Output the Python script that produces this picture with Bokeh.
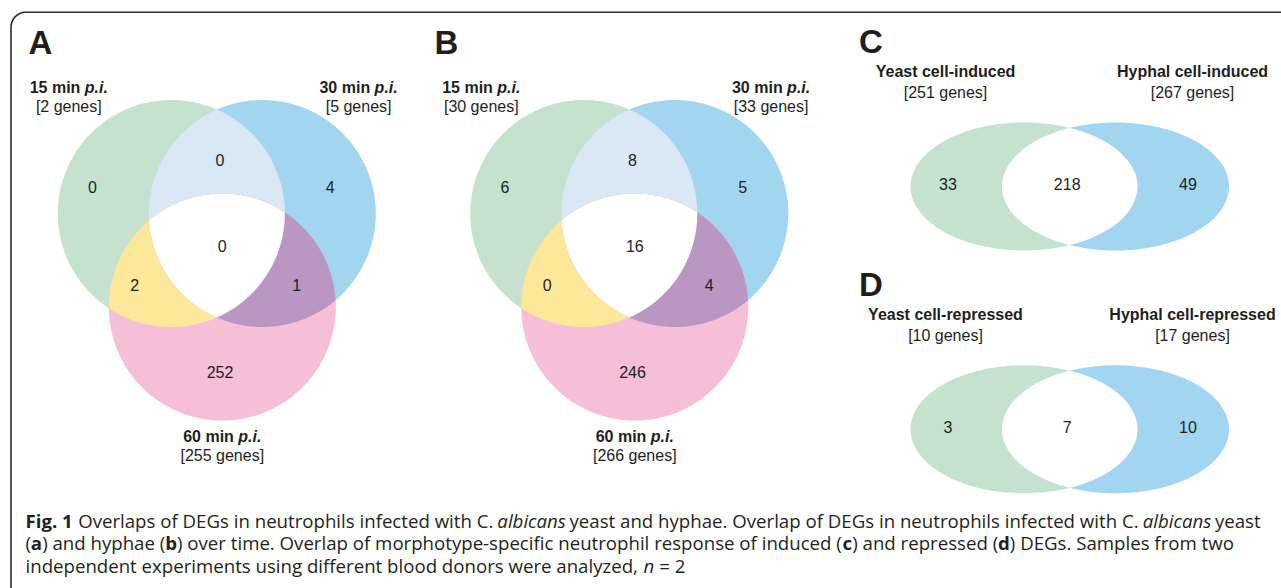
import numpy as np
from bokeh.plotting import figure
from bokeh.models import Range1d
from bokeh.core.properties import value
from bokeh.embed import file_html
from bokeh.resources import INLINE

# ---------------- data ----------------
time_sets = ["15 min", "30 min", "60 min"]
yeast_totals = [2, 5, 255]
hyphae_totals = [30, 33, 266]
# regions: only15, only30, only60, 15&30, 15&60, 30&60, all
yeast_counts = [0, 4, 252, 0, 2, 1, 0]
hyphae_counts = [6, 5, 246, 8, 0, 4, 16]
morph_induced = ["Yeast cell-induced", "Hyphal cell-induced"]
induced_totals = [251, 267]
induced_counts = [33, 218, 49]      # yeast only, both, hyphal only
morph_repressed = ["Yeast cell-repressed", "Hyphal cell-repressed"]
repressed_totals = [10, 17]
repressed_counts = [3, 7, 10]
panel_letters = ["A", "B", "C", "D"]

caption_lines = [
    [("Fig. 1", "bold"), (" Overlaps of DEGs in neutrophils infected with C. ", "normal"),
     ("albicans", "italic"), (" yeast and hyphae. Overlap of DEGs in neutrophils infected with C. ", "normal"),
     ("albicans", "italic"), (" yeast", "normal")],
    [("(", "normal"), ("a", "bold"), (") and hyphae (", "normal"), ("b", "bold"),
     (") over time. Overlap of morphotype-specific neutrophil response of induced (", "normal"),
     ("c", "bold"), (") and repressed (", "normal"), ("d", "bold"), (") DEGs. Samples from two", "normal")],
    [("independent experiments using different blood donors were analyzed, ", "normal"),
     ("n", "italic"), (" = 2", "normal")],
]

# ---------------- layout ----------------
W, H = 1281, 588
caption_x0 = 25.0
caption_y = [526.5, 549.0, 571.5]
CAP_SIZE = 18.65
BASE_SHIFT = 0.36   # renderer places the glyph ~0.36 em below the requested baseline

GREEN, BLUE, PINK = "#c5e2ce", "#a2d6f0", "#f5bfd7"
LBLUE, YELLOW, PURPLE = "#dae7f4", "#fde89a", "#ba96c2"
TXT = "#1e1e1e"
FONT = value("Liberation Sans")

p = figure(width=W, height=H, output_backend="svg", toolbar_location=None,
           x_range=Range1d(0, W), y_range=Range1d(H, 0),
           min_border=0, outline_line_color=None)
p.axis.visible = False
p.grid.visible = False
p.background_fill_color = "white"
p.border_fill_color = "white"

# Arial / Liberation Sans bold advance widths (per 1000 em)
BOLD_W = {"0": 556, "1": 556, "3": 556, "5": 556, "6": 556, " ": 278, "m": 889,
          "i": 278, "n": 611, "p": 611, ".": 278}

# Open Sans advance widths (per 2048 em)
OS_REG = {" ": 532, "(": 590, ")": 590, ",": 492, "-": 659, ".": 545, "=": 1171,
          "1": 1171, "2": 1171, "A": 1296, "C": 1266, "D": 1479, "E": 1087, "F": 1028,
          "G": 1425, "O": 1599, "S": 1096, "a": 1139, "b": 1255, "c": 975, "d": 1255,
          "e": 1149, "f": 694, "g": 1122, "h": 1257, "i": 518, "k": 1075, "l": 518,
          "m": 1905, "n": 1257, "o": 1237, "p": 1255, "r": 836, "s": 977, "t": 723,
          "u": 1257, "v": 1026, "w": 1593, "x": 1073, "y": 1028, "z": 977}
OS_BOLD = {"F": 1149, "i": 621, "g": 1165, ".": 612, "1": 1171, " ": 532,
           "a": 1237, "b": 1296, "c": 1067, "d": 1296}


def tw(s, size, table):
    return sum(table[c] for c in s) * size / 1000.0


def os_w(s, style, size):
    tot = 0.0
    for ch in s:
        w = OS_REG.get(ch, 1150)
        if "bold" in style:
            w = OS_BOLD.get(ch, w * 1.06)
        elif "italic" in style and ch != " ":
            w = w * 0.95
        tot += w
    return tot * size / 2048.0


def boundary(shape, n=1440):
    cx, cy, a, b = shape
    t = np.linspace(0, 2 * np.pi, n, endpoint=False)
    return cx + a * np.cos(t), cy + b * np.sin(t)


def inside(shape, x, y):
    cx, cy, a, b = shape
    return ((x - cx) / a) ** 2 + ((y - cy) / b) ** 2 <= 1 + 1e-9


def intersect(shapes):
    xs, ys = [], []
    for i, s in enumerate(shapes):
        x, y = boundary(s)
        m = np.ones(len(x), dtype=bool)
        for j, o in enumerate(shapes):
            if j != i:
                m &= inside(o, x, y)
        xs.append(x[m]); ys.append(y[m])
    x = np.concatenate(xs); y = np.concatenate(ys)
    c0, c1 = x.mean(), y.mean()
    order = np.argsort(np.arctan2(y - c1, x - c0))
    return list(x[order]), list(y[order])


def text(x, y, s, size=16.0, style="normal", align="center", font=FONT, color=TXT):
    yy = [v - BASE_SHIFT * size for v in y]
    p.text(x=x, y=yy, text=s, text_font=font, text_font_size="%.2fpx" % size,
           text_font_style=style, text_align=align, text_baseline="alphabetic",
           text_color=color)


# ---------------- three-set Venn panels ----------------
R = 113.5
region_off = [(-124.4, 186.3), (113.4, 186.3), (3.2, 371.7), (3.2, 159.7),
              (-82.0, 284.5), (80.0, 284.5), (5.5, 246.0)]


def venn3(mid, counts, totals, letter, letter_x):
    g = (mid - 45.5, 213.0, R, R)
    b = (mid + 45.5, 213.0, R, R)
    pk = (mid + 5.5, 306.6, R, R)
    polys = [([g], GREEN), ([b], BLUE), ([pk], PINK),
             ([g, b], LBLUE), ([g, pk], YELLOW), ([b, pk], PURPLE), ([g, b, pk], "white")]
    xs, ys, cs = [], [], []
    for shp, col in polys:
        x, y = intersect(shp)
        xs.append(x); ys.append(y); cs.append(col)
    p.patches(xs=xs, ys=ys, fill_color=cs, line_color=None)
    text([mid + o[0] for o in region_off], [o[1] + 5.7 for o in region_off],
         [str(c) for c in counts])
    centers = [mid - 148.0, mid + 141.8, mid + 5.5]
    tb = [92.8, 92.8, 441.5]
    gb = [111.8, 111.8, 460.7]
    for name, tot, cx, yb, yg in zip(time_sets, totals, centers, tb, gb):
        w1 = tw(name + " ", 16, BOLD_W)
        w2 = tw("p.i.", 16, BOLD_W)
        x0 = cx - (w1 + w2) / 2
        text([x0], [yb], [name], style="bold", align="left")
        text([x0 + w1], [yb], ["p.i."], style="bold italic", align="left")
        text([cx], [yg], ["[%d genes]" % tot])
    text([letter_x], [54.0], [letter], size=33.0, style="bold", align="left")


venn3(216.3, yeast_counts, yeast_totals, panel_letters[0], 28.0)
venn3(628.8, hyphae_counts, hyphae_totals, panel_letters[1], 434.0)


# ---------------- two-set Venn panels ----------------
def venn2(cy, counts, names, totals, letter, ybase):
    g = (1023.5, cy, 113.5, 64.0)
    b = (1115.0, cy, 113.5, 64.0)
    xs, ys, cs = [], [], []
    for shp, col in [([g], GREEN), ([b], BLUE), ([g, b], "white")]:
        x, y = intersect(shp)
        xs.append(x); ys.append(y); cs.append(col)
    p.patches(xs=xs, ys=ys, fill_color=cs, line_color=None)
    text([947.5, 1066.7, 1187.5], [cy + 3.0] * 3, [str(c) for c in counts])
    text([945.0, 1192.0], [ybase, ybase], names, style="bold")
    text([945.0, 1192.0], [ybase + 21.0] * 2, ["[%d genes]" % t for t in totals])
    text([858.5], [ybase - 23.5], [letter], size=33.0, style="bold", align="left")


venn2(186.0, induced_counts, morph_induced, induced_totals, panel_letters[2], 76.5)
venn2(428.8, repressed_counts, morph_repressed, repressed_totals, panel_letters[3], 319.8)

# ---------------- frame ----------------
rr = 15.0
t = np.linspace(np.pi, 1.5 * np.pi, 30)
bx = [10.5] + list(10.5 + rr + rr * np.cos(t)) + [1400.0]
by = [900.0] + list(11.7 + rr + rr * np.sin(t)) + [11.7]
p.line(bx, by, line_color="#2a2a2a", line_width=1.6)

# ---------------- caption (runs laid out one after another) ----------------
cap_font = value("Open Sans")
for runs, yb in zip(caption_lines, caption_y):
    x = caption_x0
    for s, st in runs:
        lead = len(s) - len(s.lstrip(" "))
        trail = len(s) - len(s.rstrip(" "))
        core = s.strip(" ")
        x += os_w(" " * lead, st, CAP_SIZE)
        text([x], [yb], [core], size=CAP_SIZE, style=st, align="left",
             font=cap_font, color="#231f20")
        x += os_w(core, st, CAP_SIZE) + os_w(" " * trail, st, CAP_SIZE)

open("out.html", "w").write(file_html(p, INLINE))
